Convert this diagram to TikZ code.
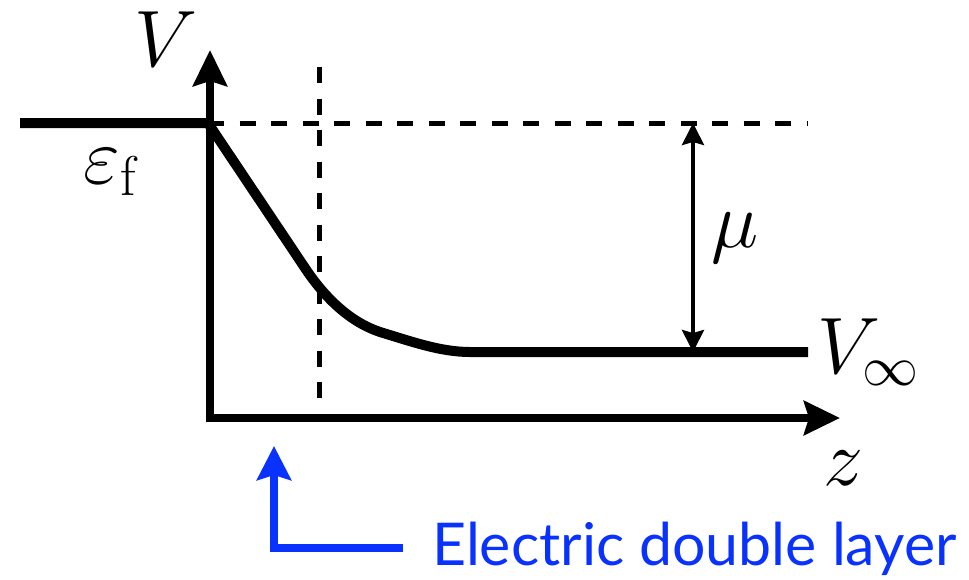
\RequirePackage{fix-cm}
\documentclass[tikz,border=0pt]{standalone}
\usepackage{fontspec}
\newfontfamily\labelfont{Lato}
\usetikzlibrary{arrows.meta}
\definecolor{edlblue}{RGB}{10,50,255}
\begin{document}
\begin{tikzpicture}[x=1pt,y=-1pt,
  curve/.style={line width=10pt,line join=miter},
  axis/.style={line width=7.5pt,line join=miter},
  bigtip/.tip={Stealth[length=36pt,width=34pt,inset=5pt]},
  guide/.style={line width=5pt,dash pattern=on 16pt off 15.5pt},
  dimline/.style={line width=3.8pt,{Stealth[length=22pt,width=22pt,inset=3pt]}-{Stealth[length=22pt,width=22pt,inset=3pt]}},
  bluearrow/.style={line width=8pt,edlblue,line join=miter,-{Stealth[length=34pt,width=34pt,inset=5pt]}},
  lbl/.style={font=\fontsize{80}{90}\selectfont,inner sep=0pt},
  bluelbl/.style={font=\labelfont\fontsize{59}{64}\selectfont,text=edlblue,inner sep=0pt}]
\useasboundingbox (0,0) rectangle (969,579);
% key points
\coordinate (lead) at (20,123);
\coordinate (surf) at (208,123);
\coordinate (origin) at (210,418);
\coordinate (ytip) at (210,50);
\coordinate (xtip) at (840,418);
\coordinate (flat) at (470,352);
\coordinate (tail) at (808,352);
\coordinate (dashend) at (808,123);
\coordinate (vtop) at (319,67);
\coordinate (vbot) at (319,405);
\coordinate (mutop) at (693,123);
\coordinate (mubot) at (693,352);
\coordinate (bstart) at (403,548);
\coordinate (bcorner) at (274,548);
\coordinate (btip) at (274,446);
% guides
\draw[guide] (surf) -- (dashend);
\draw[guide] (vtop) -- (vbot);
% axes
\draw[axis,{bigtip}-{bigtip}] (ytip) -- (origin) -- (xtip);
% potential curve
\draw[curve] (lead) -- (surf) -- (305,268)
  .. controls (325,298) and (350,322) .. (380,332)
  .. controls (410,341) and (440,352) .. (flat) -- (tail);
% mu arrow
\draw[dimline] (mutop) -- (mubot);
% blue arrow
\draw[bluearrow] (bstart) -- (bcorner) -- (btip);
% labels
\node[lbl,anchor=base] (Vlab) at (166,66) {$V$};
\node[lbl,anchor=base] (eflab) at (110,183) {$\varepsilon_{\mathrm{f}}$};
\node[lbl,anchor=base] (mulab) at (735,247) {$\mu$};
\node[lbl,anchor=base west] (Vinf) at (817,373) {$V_\infty$};
\node[lbl,anchor=base] (zlab) at (843,485) {$z$};
\node[bluelbl,anchor=base west] (edl) at (432,565) {Electric double layer};
\end{tikzpicture}
\end{document}
